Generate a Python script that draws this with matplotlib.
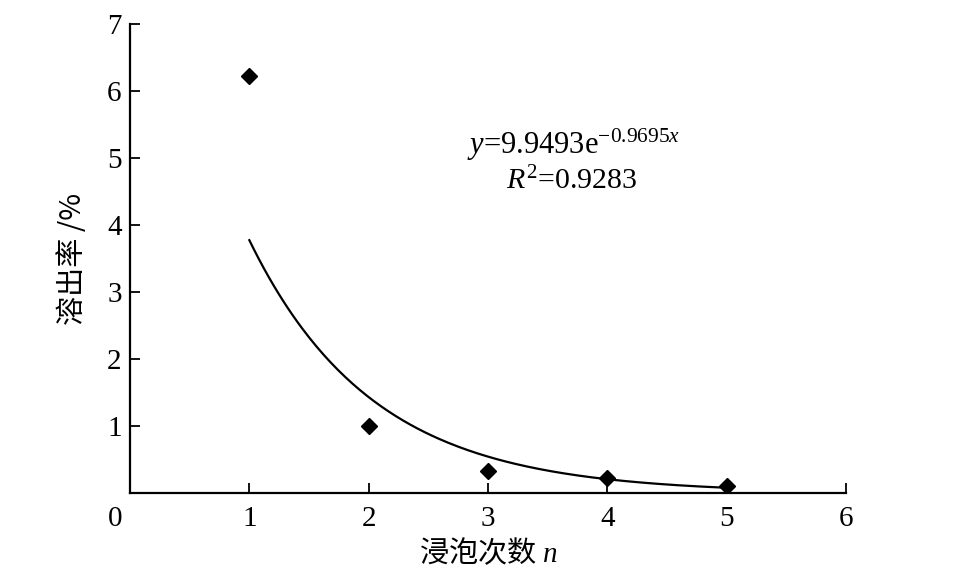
import numpy as np
import matplotlib
matplotlib.use("Agg")
import matplotlib.pyplot as plt
import matplotlib.transforms as mtransforms

# data
n_soak = [1, 2, 3, 4, 5]
dissolution_rate = [6.23, 1.0, 0.33, 0.22, 0.10]
fit_a = 9.9493
fit_b = -0.9695
fit_r2 = 0.9283
x_ticks = [0, 1, 2, 3, 4, 5, 6]
y_ticks = [1, 2, 3, 4, 5, 6, 7]

plt.rcParams['font.family'] = ['Liberation Serif', 'Noto Sans CJK SC', 'DejaVu Sans']
plt.rcParams['mathtext.fontset'] = 'custom'
plt.rcParams['mathtext.rm'] = 'Liberation Serif'
plt.rcParams['mathtext.it'] = 'Liberation Serif:italic'

fig = plt.figure(figsize=(9.58, 5.68), dpi=100)
ax = fig.add_axes([130/958, 75/568, 716/958, 469/568])

xf = np.linspace(n_soak[0], n_soak[-1], 200)
ax.plot(xf, fit_a*np.exp(fit_b*xf), color='black', lw=1.6)
ax.plot(n_soak, dissolution_rate, linestyle='none', marker='D', ms=8.5, color='black')

ax.set_xlim(0, 6)
ax.set_ylim(0, 7)
ax.set_xticks(x_ticks)
ax.set_yticks(y_ticks)
ax.spines['top'].set_visible(False)
ax.spines['right'].set_visible(False)
for s in ['left', 'bottom']:
    ax.spines[s].set_linewidth(1.6)
ax.tick_params(direction='in', length=7, width=1.3, labelsize=21, pad=9)
ax.tick_params(axis='y', pad=6)

# shift the "0" label left to the corner
lbl0 = ax.get_xticklabels()[0]
lbl0.set_transform(lbl0.get_transform() + mtransforms.ScaledTranslation(-15/100, 0, fig.dpi_scale_trans))

ax.set_xlabel('浸泡次数 $n$', fontsize=21, family=['Noto Sans CJK SC', 'DejaVu Sans'], labelpad=4)
ax.set_ylabel('溶出率 /%', fontsize=21, family=['Noto Sans CJK SC', 'DejaVu Sans'], labelpad=14)

ax.text(3.72, 5.19, r'$y$=9.9493e$^{-0.9695x}$', fontsize=22, ha='center', va='center')
ax.text(3.7, 4.66, r'$R^2$=0.9283', fontsize=21.5, ha='center', va='center')

fig.savefig('out.png', dpi=100)
